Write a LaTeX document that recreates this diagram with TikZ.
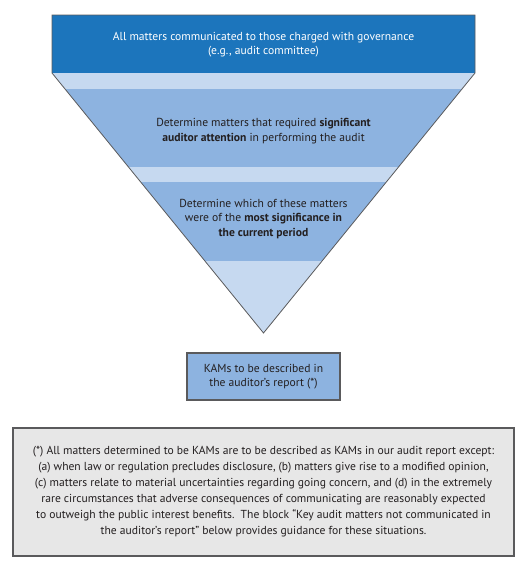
\documentclass[tikz,border=0pt]{standalone}
\usepackage{fontspec}
\setmainfont{PT Sans}
\definecolor{darkblue}{RGB}{28,117,188}
\definecolor{lightblue}{RGB}{198,217,240}
\definecolor{midblue}{RGB}{141,179,224}
\definecolor{txt}{RGB}{35,31,32}
\definecolor{boxgray}{RGB}{231,231,231}
\definecolor{edgegray}{RGB}{90,90,92}
\tikzset{
  lbl/.style={align=center, text=txt, font=\fontsize{11.6}{14.5}\selectfont, inner sep=0pt},
  kambox/.style={draw=edgegray, line width=1.1pt, fill=midblue, minimum width=153pt, minimum height=47pt, inner sep=0pt},
  notebox/.style={draw=edgegray, line width=1.1pt, fill=boxgray, minimum width=501pt, minimum height=128pt, inner sep=0pt}
}
\begin{document}
\begin{tikzpicture}[x=1pt,y=-1pt]
\useasboundingbox (0,0) rectangle (527,569);
% funnel
\begin{scope}
\clip (52,15) -- (475,15) -- (475,73) -- (263.5,333) -- (52,73) -- cycle;
\fill[darkblue] (40,15) rectangle (490,73);
\fill[lightblue] (40,73) rectangle (490,89);
\fill[midblue] (40,89) rectangle (490,167);
\fill[lightblue] (40,167) rectangle (490,182);
\fill[midblue] (40,182) rectangle (490,261);
\fill[lightblue] (40,261) rectangle (490,340);
\end{scope}
\draw[edgegray, line width=0.8pt, line join=miter] (52,15) -- (475,15) -- (475,73) -- (263.5,333) -- (52,73) -- cycle;
\node[lbl, text=white] (t1) at (263.5,44.5) {All matters communicated to those charged with governance\\(e.g., audit committee)};
\node[lbl] (t2) at (263.5,131) {Determine matters that required \textbf{significant}\\\textbf{auditor attention} in performing the audit};
\node[lbl] (t3) at (263.5,219) {Determine which of these matters\\were of the \textbf{most significance in}\\\textbf{the current period}};
\node[kambox] (kam) at (263.5,376.5) {};
\node[lbl] (kamt) at (kam.center) {KAMs to be described in\\the auditor’s report (*)};
\node[notebox] (note) at (263.5,492) {};
\node[lbl, font=\fontsize{11.6}{16}\selectfont] (notet) at (note.center) {(*) All matters determined to be KAMs are to be described as KAMs in our audit report except:\\(a) when law or regulation precludes disclosure, (b) matters give rise to a modified opinion,\\(c) matters relate to material uncertainties regarding going concern, and (d) in the extremely\\rare circumstances that adverse consequences of communicating are reasonably expected\\to outweigh the public interest benefits.\ \ The block “Key audit matters not communicated in\\the auditor’s report” below provides guidance for these situations.};
\end{tikzpicture}
\end{document}
